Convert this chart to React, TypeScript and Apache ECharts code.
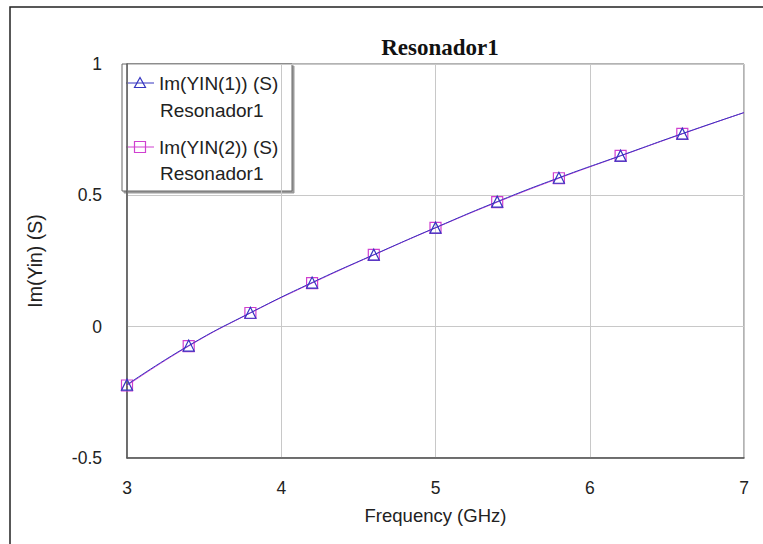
import React, { useEffect, useRef } from "react";
import * as echarts from "echarts";

const freqs = [3.0, 3.4, 3.8, 4.2, 4.6, 5.0, 5.4, 5.8, 6.2, 6.6, 7.0];
const yin1 = [-0.221, -0.072, 0.053, 0.168, 0.274, 0.377, 0.476, 0.567, 0.651, 0.735, 0.815];
const yin2 = [-0.224, -0.074, 0.052, 0.166, 0.273, 0.376, 0.474, 0.565, 0.65, 0.734, 0.815];
const markerCount = 10;
const titleText = "Resonador1";
const seriesNames = ["Im(YIN(1)) (S)", "Im(YIN(2)) (S)"];
const sourceName = "Resonador1";

const c1 = "#3535c0";
const c2 = "#d040d0";

function build(vals: number[]) {
  return freqs.map((f, i) =>
    i < markerCount ? [f, vals[i]] : { value: [f, vals[i]], symbol: "none" }
  );
}

export default function App() {
  const ref = useRef<HTMLDivElement>(null);
  useEffect(() => {
    if (!ref.current) return;
    const chart = echarts.init(ref.current, null, { renderer: "svg" });
    const font = "Liberation Sans, Arial, sans-serif";
    const legendFont = "19px Liberation Sans, Arial, sans-serif";
    chart.setOption({
      animation: false,
      backgroundColor: "#ffffff",
      title: {
        text: titleText,
        left: 435,
        textAlign: "center",
        top: 31,
        textStyle: { fontFamily: "Liberation Serif, Times New Roman, serif", fontWeight: "bold", fontSize: 23, color: "#111" },
      },
      grid: { left: 127, right: 19, top: 64, bottom: 86, show: true, borderColor: "#666", borderWidth: 1 },
      xAxis: {
        type: "value",
        min: 3,
        max: 7,
        interval: 1,
        name: "Frequency (GHz)",
        nameLocation: "middle",
        nameGap: 48,
        nameTextStyle: { fontFamily: font, fontSize: 18.5, color: "#222" },
        axisLine: { show: true, onZero: false, lineStyle: { color: "#555", width: 1.5 } },
        axisTick: { show: false },
        axisLabel: { margin: 21, fontFamily: font, fontSize: 17.5, color: "#222" },
        splitLine: { show: true, lineStyle: { color: "#c8c8c8", width: 1 } },
      },
      yAxis: {
        type: "value",
        min: -0.5,
        max: 1,
        interval: 0.5,
        name: "Im(Yin) (S)",
        nameLocation: "middle",
        nameRotate: 90,
        nameGap: 82,
        nameTextStyle: { fontFamily: font, fontSize: 19.5, color: "#222" },
        axisLine: { show: true, onZero: false, lineStyle: { color: "#555", width: 1.5 } },
        axisTick: { show: false },
        axisLabel: { margin: 25, fontFamily: font, fontSize: 17.5, color: "#222" },
        splitLine: { show: true, lineStyle: { color: "#c8c8c8", width: 1 } },
      },
      series: [
        {
          name: seriesNames[1],
          type: "line",
          smooth: true,
          z: 2,
          data: build(yin2),
          symbol: "rect",
          symbolSize: 11,
          lineStyle: { color: c2, width: 1 },
          itemStyle: { color: "transparent", borderColor: c2, borderWidth: 1.2 },
        },
        {
          name: seriesNames[0],
          type: "line",
          smooth: true,
          z: 3,
          data: build(yin1),
          symbol: "triangle",
          symbolSize: [11, 11],
          lineStyle: { color: c1, width: 1 },
          itemStyle: { color: "transparent", borderColor: c1, borderWidth: 1.2 },
        },
      ],
      graphic: [
        {
          type: "rect",
          shape: { x: 10, y: 7, width: 900, height: 700 },
          style: { fill: "none", stroke: "#222", lineWidth: 1.5 },
          z: 0,
        },
        {
          type: "group",
          z: 100,
          children: [
            {
              type: "rect",
              shape: { x: 122, y: 64, width: 170, height: 127 },
              style: { fill: "#fff", stroke: "#666", lineWidth: 1, shadowColor: "#9a9a9a", shadowOffsetX: 2, shadowOffsetY: 2, shadowBlur: 0 },
            },
            { type: "line", shape: { x1: 126, y1: 83, x2: 154, y2: 83 }, style: { stroke: c1, lineWidth: 1 } },
            {
              type: "polygon",
              shape: { points: [[140, 77.5], [134.5, 87.5], [145.5, 87.5]] },
              style: { fill: "none", stroke: c1, lineWidth: 1.2 },
            },
            { type: "text", x: 159, y: 83, style: { text: seriesNames[0], font: legendFont, fill: "#222", verticalAlign: "middle" } },
            { type: "text", x: 160, y: 110, style: { text: sourceName, font: legendFont, fill: "#222", verticalAlign: "middle" } },
            { type: "line", shape: { x1: 126, y1: 147, x2: 154, y2: 147 }, style: { stroke: c2, lineWidth: 1 } },
            { type: "rect", shape: { x: 134.5, y: 141.5, width: 11, height: 11 }, style: { fill: "none", stroke: c2, lineWidth: 1.2 } },
            { type: "text", x: 159, y: 147, style: { text: seriesNames[1], font: legendFont, fill: "#222", verticalAlign: "middle" } },
            { type: "text", x: 160, y: 173, style: { text: sourceName, font: legendFont, fill: "#222", verticalAlign: "middle" } },
          ],
        },
      ],
    });
    return () => chart.dispose();
  }, []);
  return <div ref={ref} style={{ position: "fixed", left: 0, top: 0, width: 763, height: 544 }} />;
}
